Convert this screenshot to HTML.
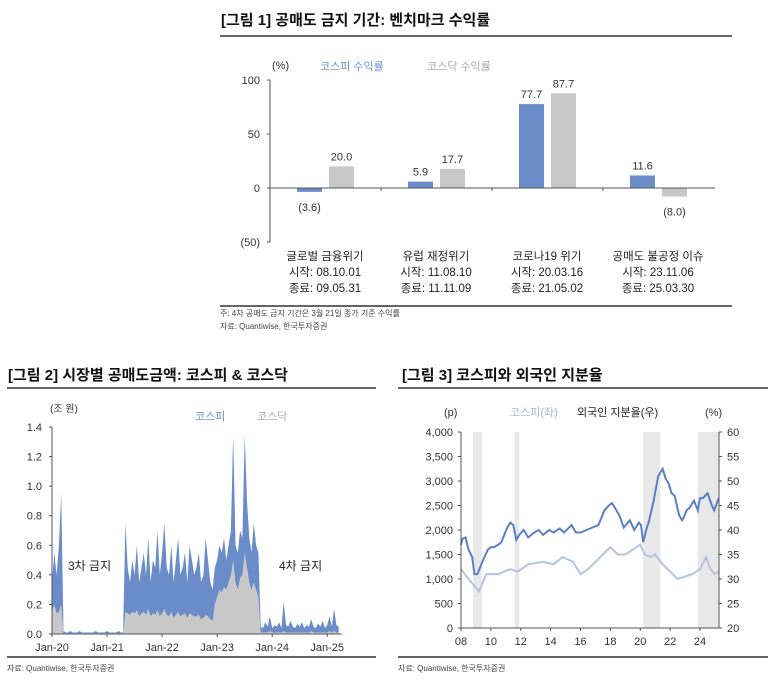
<!DOCTYPE html>
<html><head><meta charset="utf-8">
<style>
body{margin:0;background:#fff;width:780px;height:689px;overflow:hidden;font-family:"Liberation Sans","Noto Sans CJK KR",sans-serif;}
svg{position:absolute;left:0;top:0}
text{font-family:"Liberation Sans","Noto Sans CJK KR",sans-serif;}
</style></head><body>
<svg id="s" width="780" height="689">
 <!-- Figure 1 -->
 <text x="221" y="25" font-size="15" font-weight="bold" fill="#111">[그림 1] 공매도 금지 기간: 벤치마크 수익률</text>
 <line x1="220" y1="36" x2="732" y2="36" stroke="#333" stroke-width="1.5"/>
 <text x="272" y="69" font-size="11" fill="#333">(%)</text>
 <text x="320" y="70" font-size="11" fill="#6f8fcf">코스피 수익률</text>
 <text x="427" y="70" font-size="11" fill="#aaa">코스닥 수익률</text>
 <g id="f1"></g>
 <line x1="220" y1="306" x2="732" y2="306" stroke="#333" stroke-width="1.5"/>
 <text x="220" y="316" font-size="8" fill="#444">주: 4차 공매도 금지 기간은 3월 21일 종가 기준 수익률</text>
 <text x="220" y="329" font-size="8" fill="#444">자료: Quantiwise, 한국투자증권</text>

 <!-- Figure 2 -->
 <text x="8" y="380" font-size="15" font-weight="bold" fill="#111">[그림 2] 시장별 공매도금액: 코스피 &amp; 코스닥</text>
 <line x1="7" y1="388" x2="376" y2="388" stroke="#333" stroke-width="1.5"/>
 <text x="50" y="412" font-size="10" fill="#333">(조 원)</text>
 <text x="195" y="420" font-size="11" fill="#6f8fcf">코스피</text>
 <text x="257" y="420" font-size="11" fill="#aaa">코스닥</text>
 <g id="f2"></g>
 <text x="68" y="570" font-size="12" fill="#222">3차 금지</text>
 <text x="279" y="570" font-size="12" fill="#222">4차 금지</text>
 <line x1="7" y1="657" x2="376" y2="657" stroke="#333" stroke-width="1.5"/>
 <text x="7" y="671" font-size="8" fill="#444">자료: Quantiwise, 한국투자증권</text>

 <!-- Figure 3 -->
 <text x="402" y="380" font-size="15" font-weight="bold" fill="#111">[그림 3] 코스피와 외국인 지분율</text>
 <line x1="398" y1="388" x2="768" y2="388" stroke="#333" stroke-width="1.5"/>
 <text x="444" y="416" font-size="11" fill="#333">(p)</text>
 <text x="510" y="416" font-size="11" fill="#a9b9d6">코스피(좌)</text>
 <text x="577" y="416" font-size="11" fill="#222">외국인 지분율(우)</text>
 <text x="705" y="416" font-size="11" fill="#333">(%)</text>
 <g id="f3"></g>
 <line x1="398" y1="657" x2="768" y2="657" stroke="#333" stroke-width="1.5"/>
 <text x="398" y="671" font-size="8" fill="#444">자료: Quantiwise, 한국투자증권</text>
</svg>
<script>
// ===== Figure 1 data =====
const f1Categories=["글로벌 금융위기","유럽 재정위기","코로나19 위기","공매도 불공정 이슈"];
const f1Starts=["시작: 08.10.01","시작: 11.08.10","시작: 20.03.16","시작: 23.11.06"];
const f1Ends=["종료: 09.05.31","종료: 11.11.09","종료: 21.05.02","종료: 25.03.30"];
const f1Kospi=[-3.6,5.9,77.7,11.6];
const f1Kosdaq=[20.0,17.7,87.7,-8.0];
const f1Ticks=[100,50,0,-50];

// ===== Figure 2 data (half-month steps from Jan-20) =====
const f2XLabels=["Jan-20","Jan-21","Jan-22","Jan-23","Jan-24","Jan-25"];
const f2YTicks=[0,0.2,0.4,0.6,0.8,1.0,1.2,1.4];
const f2Total=[0.35,0.55,0.4,0.6,0.95,
0.02,0.01,0.01,0.02,0.01,0.01,0.01,0.02,0.01,0.01,0.01,0.01,0.01,0.01,0.02,0.01,0.01,0.01,0.01,0.02,0.01,0.01,0.01,0.01,0.02,0.01,0.01,
0.75,0.45,0.35,0.5,0.4,0.6,0.35,0.45,0.55,0.4,0.65,0.35,0.5,0.45,0.7,0.4,0.55,0.75,0.45,0.4,0.6,0.35,0.5,0.65,0.4,0.45,0.55,0.35,0.6,0.5,0.4,0.45,0.55,0.35,0.4,0.65,0.5,0.35,0.3,
0.45,0.5,0.6,0.55,0.65,0.5,0.6,0.7,1.35,0.6,0.55,0.7,0.65,1.35,0.9,0.65,0.55,0.75,0.6,0.55,
0.05,0.04,0.08,0.05,0.12,0.04,0.06,0.05,0.08,0.04,0.22,0.06,0.05,0.09,0.05,0.04,0.07,0.05,0.08,0.04,0.06,0.05,0.1,0.05,0.04,0.07,0.05,0.09,0.04,0.06,0.12,0.05,0.17,0.06,0.05];
const f2Kosdaq=[0.15,0.2,0.14,0.15,0.2,
0.005,0.005,0.005,0.005,0.005,0.005,0.005,0.005,0.005,0.005,0.005,0.005,0.005,0.005,0.005,0.005,0.005,0.005,0.005,0.005,0.005,0.005,0.005,0.005,0.005,0.005,0.005,
0.15,0.14,0.13,0.15,0.14,0.16,0.12,0.14,0.15,0.13,0.17,0.12,0.14,0.13,0.16,0.12,0.14,0.17,0.13,0.12,0.15,0.11,0.13,0.15,0.12,0.13,0.14,0.11,0.14,0.13,0.12,0.12,0.13,0.1,0.11,0.13,0.12,0.1,0.09,
0.2,0.25,0.3,0.28,0.32,0.3,0.35,0.4,0.5,0.35,0.3,0.38,0.4,0.55,0.45,0.35,0.3,0.35,0.3,0.25,
0.01,0.01,0.01,0.01,0.02,0.01,0.01,0.01,0.01,0.01,0.02,0.01,0.01,0.01,0.01,0.01,0.01,0.01,0.01,0.01,0.01,0.01,0.02,0.01,0.01,0.01,0.01,0.01,0.01,0.01,0.02,0.01,0.02,0.01,0.01];

// ===== Figure 3 data =====
const f3XLabels=["08","10","12","14","16","18","20","22","24"];
const f3LeftTicks=[0,500,1000,1500,2000,2500,3000,3500,4000];
const f3RightTicks=[20,25,30,35,40,45,50,55,60];
const f3BanStart=[2008.8,2011.6,2020.2,2023.85];
const f3BanEnd=[2009.4,2011.9,2021.35,2025.3];
const f3KospiT=[2008.0,2008.1,2008.3,2008.5,2008.75,2008.9,2009.1,2009.3,2009.5,2009.8,2010.0,2010.2,2010.5,2010.7,2010.9,2011.1,2011.3,2011.5,2011.7,2011.9,2012.2,2012.5,2012.9,2013.2,2013.5,2013.9,2014.2,2014.6,2014.9,2015.4,2015.7,2016.0,2016.4,2016.8,2017.2,2017.6,2017.9,2018.1,2018.3,2018.6,2018.9,2019.3,2019.6,2019.9,2020.05,2020.2,2020.4,2020.6,2020.9,2021.2,2021.5,2021.7,2021.9,2022.1,2022.3,2022.6,2022.8,2022.9,2023.1,2023.3,2023.6,2023.85,2024.0,2024.2,2024.5,2024.8,2024.95,2025.25];
const f3Kospi=[1700,1820,1850,1600,1450,1100,1100,1250,1400,1600,1650,1650,1700,1750,1900,2050,2150,2100,1800,1900,2000,1850,1950,2000,1900,2000,1950,2030,1950,2100,1950,1950,2000,2050,2100,2400,2500,2550,2450,2300,2050,2200,2000,2150,2100,1750,2000,2200,2600,3100,3250,3050,2950,2750,2700,2300,2200,2250,2400,2450,2600,2400,2650,2650,2750,2500,2400,2650];
const f3ShareT=[2008.0,2008.5,2009.2,2009.7,2010.5,2011.3,2011.8,2012.5,2013.5,2014.2,2014.8,2015.5,2016.0,2016.5,2017.5,2018.0,2018.5,2019.0,2019.5,2020.0,2020.3,2020.7,2021.0,2021.5,2022.0,2022.5,2023.0,2023.5,2024.0,2024.4,2024.7,2025.0,2025.25];
const f3Share=[32,30,27.5,31,31,32,31.5,33,33.5,33,34.5,33.5,31,32,35,36.5,35,35,36,37,35,34.5,35,33,31.5,30,30.5,31,32,34.5,32,31,31.5];

const NS="http://www.w3.org/2000/svg";
function mk(parent,tag,attrs,txt){const e=document.createElementNS(NS,tag);for(const k in attrs)e.setAttribute(k,attrs[k]);if(txt!==undefined)e.textContent=txt;parent.appendChild(e);return e;}
function fmt(v){return v<0?"("+Math.abs(v).toFixed(1)+")":v.toFixed(1);}

// ---- Figure 1 ----
(function(){
 const g=document.getElementById('f1');
 const y=v=>188-v*1.08;
 const x0=270,cw=111;
 let e=mk(g,'line',{x1:x0,y1:y(100),x2:x0,y2:y(-50),stroke:'#555'});
 
 f1Ticks.forEach(t=>{
  let tl=mk(g,'line',{x1:x0-3,y1:y(t),x2:x0,y2:y(t),stroke:'#555'});
  
  let tt=mk(g,'text',{x:x0-10,y:y(t)+4,'font-size':11,'text-anchor':'end',fill:'#333'},t<0?"("+Math.abs(t)+")":String(t));
  
 });
 f1Categories.forEach((c,i)=>{
  const s=x0+cw*i;
  const vals=[f1Kospi[i],f1Kosdaq[i]],cols=['#6a8cc8','#c8c8c8'],offs=[27,59];
  vals.forEach((v,j)=>{
   const r=mk(g,'rect',{x:s+offs[j],y:Math.min(y(v),y(0)),width:25,height:Math.abs(y(v)-y(0)),fill:cols[j]});
   
   
   const ly=v>=0?y(v)-6:y(v)+19;
   const t=mk(g,'text',{x:s+offs[j]+12.5,y:ly,'font-size':11,'text-anchor':'middle',fill:'#333'},fmt(v));
   
   
  });
  [c,f1Starts[i],f1Ends[i]].forEach((l,k)=>{
   const t=mk(g,'text',{x:s+55,y:260+k*16,'font-size':11.5,'text-anchor':'middle',fill:'#222'},l);
   
   
  });
  if(i>0){const tk=mk(g,'line',{x1:s,y1:y(0),x2:s,y2:y(0)+3,stroke:'#555'});
   }
 });
 e=mk(g,'line',{x1:x0,y1:y(0),x2:715,y2:y(0),stroke:'#555'});
 
})();

// ---- Figure 2 ----
(function(){
 const g=document.getElementById('f2');
 const X0=52,pxm=289/63;
 const x=i=>X0+i*0.5*pxm;
 const y=v=>634-v*(207/1.4);
 const n=f2Total.length;
 let top='M'+x(0)+','+y(0),bot='M'+x(0)+','+y(0);
 for(let i=0;i<n;i++){top+=' L'+x(i).toFixed(1)+','+y(f2Total[i]).toFixed(1);bot+=' L'+x(i).toFixed(1)+','+y(f2Kosdaq[i]).toFixed(1);}
 top+=' L'+x(n-1)+','+y(0)+' Z';bot+=' L'+x(n-1)+','+y(0)+' Z';
 let a=mk(g,'path',{d:top,fill:'#6a8cc8'});
 
 a=mk(g,'path',{d:bot,fill:'#c8c8c8'});
 
 let e=mk(g,'line',{x1:X0,y1:y(1.4),x2:X0,y2:y(0),stroke:'#555'});
 
 e=mk(g,'line',{x1:X0,y1:y(0),x2:342,y2:y(0),stroke:'#555'});
 
 f2YTicks.forEach(t=>{
  const tl=mk(g,'line',{x1:X0-3,y1:y(t),x2:X0,y2:y(t),stroke:'#555'});
  
  const tt=mk(g,'text',{x:X0-10,y:y(t)+4,'font-size':11,'text-anchor':'end',fill:'#333'},t.toFixed(1));
  
 });
 f2XLabels.forEach((l,i)=>{
  const xx=X0+i*12*pxm;
  const tl=mk(g,'line',{x1:xx,y1:y(0),x2:xx,y2:y(0)+3,stroke:'#555'});
  
  const tt=mk(g,'text',{x:xx,y:651,'font-size':11,'text-anchor':'middle',fill:'#333'},l);
  
 });
})();

// ---- Figure 3 ----
(function(){
 const g=document.getElementById('f3');
 const XL=461,XR=719;
 const x=t=>XL+(t-2008)*(239/16);
 const yl=v=>628-v*(196/4000);
 const yr=v=>628-(v-20)*(196/40);
 f3BanStart.forEach((s,i)=>{
  const r=mk(g,'rect',{x:x(s),y:yl(4000),width:x(f3BanEnd[i])-x(s),height:196,fill:'#e8e8e8'});
  
 });
 let d='';f3ShareT.forEach((t,i)=>{d+=(i?' L':'M')+x(t).toFixed(1)+','+yr(f3Share[i]).toFixed(1);});
 let p=mk(g,'path',{d:d,fill:'none',stroke:'#b4c3df','stroke-width':2});
 
 d='';f3KospiT.forEach((t,i)=>{d+=(i?' L':'M')+x(t).toFixed(1)+','+yl(f3Kospi[i]).toFixed(1);});
 p=mk(g,'path',{d:d,fill:'none',stroke:'#5b7fc4','stroke-width':2});
 
 let e=mk(g,'line',{x1:XL,y1:yl(4000),x2:XL,y2:yl(0),stroke:'#555'});
 
 e=mk(g,'line',{x1:XR,y1:yl(4000),x2:XR,y2:yl(0),stroke:'#555'});
 
 e=mk(g,'line',{x1:XL,y1:yl(0),x2:XR,y2:yl(0),stroke:'#555'});
 
 f3LeftTicks.forEach(t=>{
  const tl=mk(g,'line',{x1:XL-3,y1:yl(t),x2:XL,y2:yl(t),stroke:'#555'});
  
  const tt=mk(g,'text',{x:XL-8,y:yl(t)+4,'font-size':11,'text-anchor':'end',fill:'#333'},t.toLocaleString('en-US'));
  
 });
 f3RightTicks.forEach(t=>{
  const tl=mk(g,'line',{x1:XR,y1:yr(t),x2:XR+3,y2:yr(t),stroke:'#555'});
  
  const tt=mk(g,'text',{x:XR+8,y:yr(t)+4,'font-size':11,fill:'#333'},String(t));
  
 });
 f3XLabels.forEach((l,i)=>{
  const xx=x(2008+2*i);
  const tl=mk(g,'line',{x1:xx,y1:yl(0),x2:xx,y2:yl(0)+3,stroke:'#555'});
  
  const tt=mk(g,'text',{x:xx,y:645,'font-size':11,'text-anchor':'middle',fill:'#333'},l);
  
 });
})();
</script>
</body></html>
